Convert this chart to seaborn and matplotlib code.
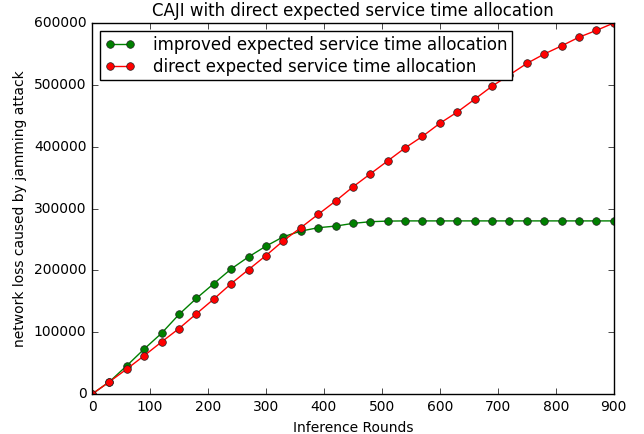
import matplotlib
matplotlib.use("Agg")
import matplotlib.pyplot as plt
import seaborn as sns
import pandas as pd

rounds = list(range(0, 901, 30))
improved = [0, 20000, 46000, 73000, 98500, 128800, 154800, 178600, 202400, 221900,
            239200, 254400, 263500, 269000, 271600, 276000, 278700, 279700, 280000, 280000,
            280000, 280000, 280000, 280000, 280000, 280000, 280000, 280000, 280000, 280000, 280000]
direct = [0, 20000, 40600, 62200, 84400, 106000, 129900, 153700, 178600, 201300,
          224000, 247900, 269000, 290600, 312000, 335000, 356000, 377000, 398000, 416700,
          437800, 456000, 476700, 497800, 516000, 534600, 549800, 563000, 577000, 588000, 600000]
labels = ["improved expected service time allocation", "direct expected service time allocation"]
colors = ["green", "red"]
xticks = [0, 100, 200, 300, 400, 500, 600, 700, 800, 900]
yticks = [0, 100000, 200000, 300000, 400000, 500000, 600000]

plt.style.use("classic")
plt.rcParams["font.family"] = ["DejaVu Sans"]

fig = plt.figure(figsize=(6.44, 4.34), dpi=100, facecolor="white")
ax = fig.add_axes([0.143, 0.092, 0.81, 0.855])

df = pd.DataFrame({"rounds": rounds, "improved": improved, "direct": direct})
for col, lab, c in zip(["improved", "direct"], labels, colors):
    sns.lineplot(data=df, x="rounds", y=col, ax=ax, color=c, marker="o",
                 markersize=5.5, markeredgecolor="#222222", markeredgewidth=0.5,
                 linewidth=1, label=lab)

ax.set_xlim(0, 900)
ax.set_ylim(0, 600000)
ax.set_xticks(xticks)
ax.set_yticks(yticks)
ax.set_xticklabels([str(t) for t in xticks], fontsize=10)
ax.set_yticklabels([str(t) for t in yticks], fontsize=10)
ax.set_xlabel("Inference Rounds", fontsize=10)
ax.set_ylabel("network loss caused by jamming attack", fontsize=10)
ax.set_title("CAJI with direct expected service time allocation", fontsize=12)
ax.legend(loc="upper left", fontsize=12, numpoints=2, fancybox=False,
          borderaxespad=0.5, handlelength=1.8, handletextpad=1.1,
          borderpad=0.25, labelspacing=0.28)

fig.savefig("out.png", dpi=100, facecolor="white")
